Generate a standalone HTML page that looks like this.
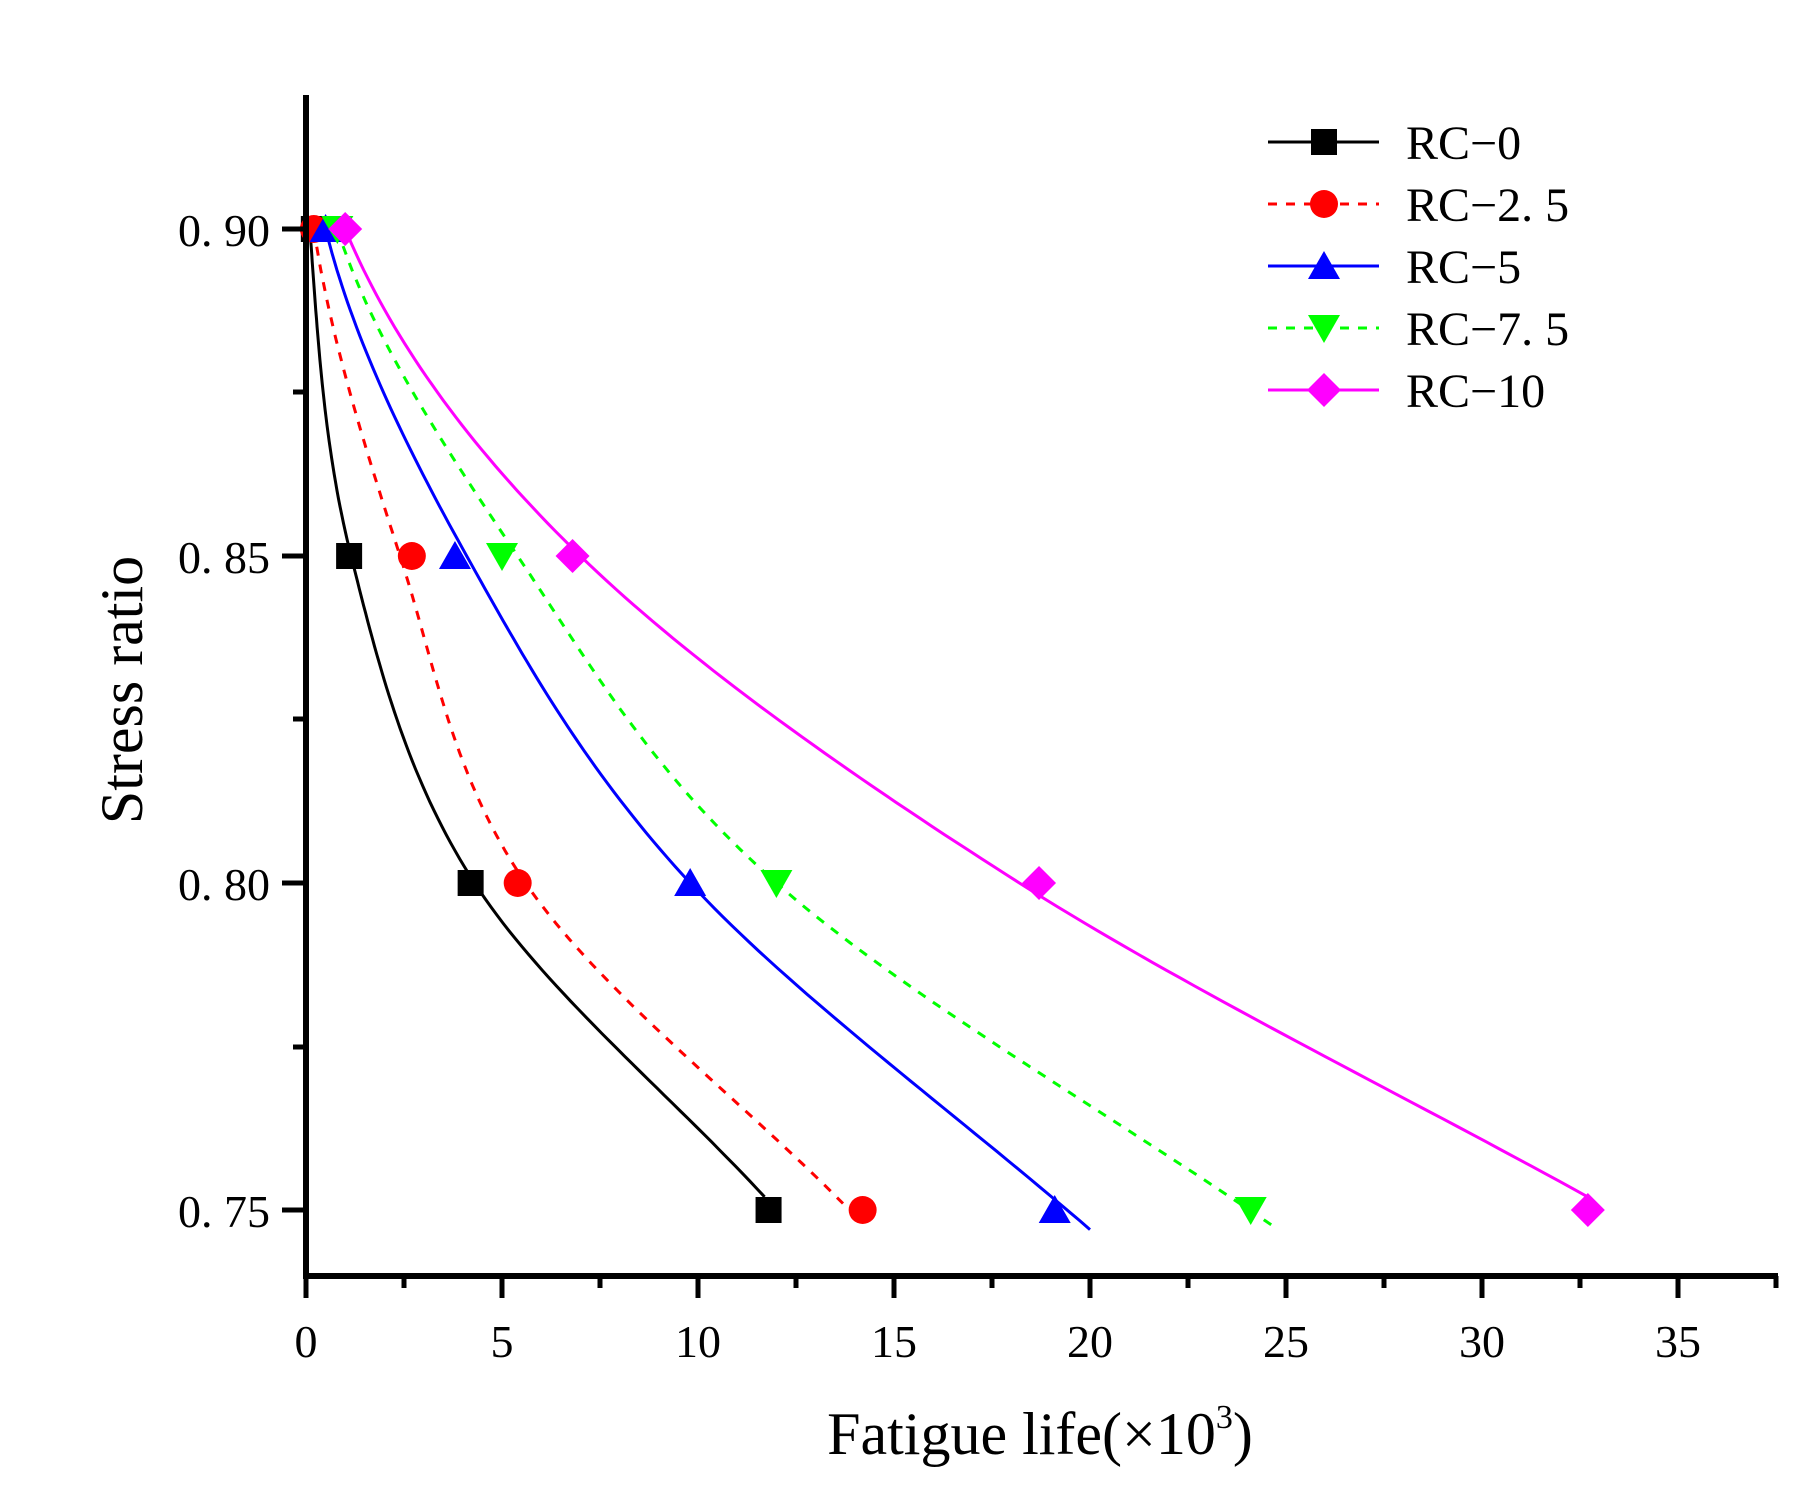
<!DOCTYPE html>
<html><head><meta charset="utf-8"><style>
html,body{margin:0;padding:0;background:#fff;}
svg text{font-family:"Liberation Serif",serif;fill:#000;}
</style></head><body>
<svg id="s" width="1804" height="1488" viewBox="0 0 1804 1488" xmlns="http://www.w3.org/2000/svg">
<rect width="1804" height="1488" fill="#fff"/>
<g id="curves"></g>
<g id="marks"></g>
<line x1="306" y1="95" x2="306" y2="1278" stroke="#000" stroke-width="6"/>
<line x1="303" y1="1276" x2="1778" y2="1276" stroke="#000" stroke-width="6"/>
<g stroke="#000" stroke-width="5">
<line x1="282" y1="229" x2="306" y2="229"/><line x1="282" y1="556" x2="306" y2="556"/>
<line x1="282" y1="883" x2="306" y2="883"/><line x1="282" y1="1210" x2="306" y2="1210"/>
<line x1="293" y1="392" x2="306" y2="392"/><line x1="293" y1="719" x2="306" y2="719"/>
<line x1="293" y1="1047" x2="306" y2="1047"/>
</g>
<g id="xt" stroke="#000" stroke-width="5"></g>
<g font-size="46" text-anchor="end">
<text x="270" y="246">0. 90</text><text x="270" y="573">0. 85</text>
<text x="270" y="900">0. 80</text><text x="270" y="1227">0. 75</text>
</g>
<g id="xl" font-size="46" text-anchor="middle"></g>
<text x="1040" y="1454" font-size="60" text-anchor="middle">Fatigue life(×10<tspan dy="-26" font-size="34">3</tspan><tspan dy="26">)</tspan></text>
<text transform="translate(142,690) rotate(-90)" font-size="60" text-anchor="middle">Stress ratio</text>
<g id="leg"></g>
</svg>
<script>
const X=v=>306+v*39.2, Y=r=>229+(0.90-r)/0.05*327;
const ns="http://www.w3.org/2000/svg";
function el(p,t,a){const e=document.createElementNS(ns,t);for(const k in a)e.setAttribute(k,a[k]);p.appendChild(e);return e;}
const xt=document.getElementById('xt'),xl=document.getElementById('xl');
for(let v=0;v<=37.5;v+=2.5){const big=v%5==0;el(xt,'line',{x1:X(v),y1:1276,x2:X(v),y2:big?1298:1288});
 if(big&&v<=35){const t=el(xl,'text',{x:X(v),y:1357});t.textContent=v;}}
const S=[
 {c:'#000',d:null,m:'sq',pts:[[0.2,0.90],[1.1,0.85],[4.2,0.80],[11.8,0.75]],cv:[[0.90,0.1],[0.85,1.15],[0.80,4.3],[0.752,11.7]],name:'RC-0'},
 {c:'#f00',d:'9,9',m:'ci',pts:[[0.2,0.90],[2.7,0.85],[5.4,0.80],[14.2,0.75]],cv:[[0.90,0.2],[0.85,2.4],[0.80,5.6],[0.751,13.7]],name:'RC-2. 5'},
 {c:'#00f',d:null,m:'tu',pts:[[0.5,0.90],[3.8,0.85],[9.8,0.80],[19.1,0.75]],cv:[[0.90,0.5],[0.85,4.1],[0.80,9.8],[0.747,20.0]],name:'RC-5'},
 {c:'#0f0',d:'9,9',m:'td',pts:[[0.8,0.90],[5.0,0.85],[12.0,0.80],[24.1,0.75]],cv:[[0.90,0.8],[0.85,5.4],[0.80,12.0],[0.747,24.8]],name:'RC-7. 5'},
 {c:'#f0f',d:null,m:'di',pts:[[1.0,0.90],[6.8,0.85],[18.7,0.80],[32.7,0.75]],cv:[[0.90,1.0],[0.85,7.0],[0.80,18.2],[0.752,32.7]],name:'RC-10'}];
function cr(p0,p1,p2,p3,t){const t2=t*t,t3=t2*t;return 0.5*((2*p1)+(-p0+p2)*t+(2*p0-5*p1+4*p2-p3)*t2+(-p0+3*p1-3*p2+p3)*t3);}
const cg=document.getElementById('curves'),mg=document.getElementById('marks'),lg=document.getElementById('leg');
function marker(g,m,x,y,c){const s=13;
 if(m=='sq')el(g,'rect',{x:x-s,y:y-s,width:2*s,height:2*s,fill:c});
 if(m=='ci')el(g,'circle',{cx:x,cy:y,r:s+1,fill:c});
 if(m=='tu')el(g,'polygon',{points:`${x},${y-s-2} ${x+s+3},${y+s} ${x-s-3},${y+s}`,fill:c});
 if(m=='td')el(g,'polygon',{points:`${x},${y+s+2} ${x+s+3},${y-s} ${x-s-3},${y-s}`,fill:c});
 if(m=='di')el(g,'polygon',{points:`${x},${y-s-4} ${x+s+4},${y} ${x},${y+s+4} ${x-s-4},${y}`,fill:c});}
S.forEach((s,i)=>{
 const P=s.cv;let pts=[];
 // extend with extrapolated ghost points for smooth end tangents
 const n=P.length;
 const g0=[2*P[0][0]-P[1][0],Math.max(0,2*P[0][1]-P[1][1])*0+P[0][1]-(P[1][1]-P[0][1])*0.15];
 const gN=[2*P[n-1][0]-P[n-2][0],2*P[n-1][1]-P[n-2][1]];
 const Q=[g0,...P,gN];
 for(let k=1;k<Q.length-2;k++){const a=Q[k-1],b=Q[k],c=Q[k+1],d=Q[k+2];
  for(let j=0;j<=40;j++){const t=j/40;pts.push([X(cr(a[1],b[1],c[1],d[1],t)),Y(cr(a[0],b[0],c[0],d[0],t))]);}}
 const a={d:'M'+pts.map(p=>p[0].toFixed(1)+','+p[1].toFixed(1)).join('L'),fill:'none',stroke:s.c,'stroke-width':3};
 if(s.d)a['stroke-dasharray']=s.d;el(cg,'path',a);
 s.pts.forEach(p=>marker(mg,s.m,X(p[0]),Y(p[1]),s.c));
 const ly=142+i*62;const la={x1:1268,y1:ly,x2:1379,y2:ly,stroke:s.c,'stroke-width':3};if(s.d)la['stroke-dasharray']=s.d;
 el(lg,'line',la);marker(lg,s.m,1324,ly,s.c);
 const t=el(lg,'text',{x:1406,y:ly+17,'font-size':48});t.textContent=s.name.replace('-','−');
});
</script>
</body></html>
